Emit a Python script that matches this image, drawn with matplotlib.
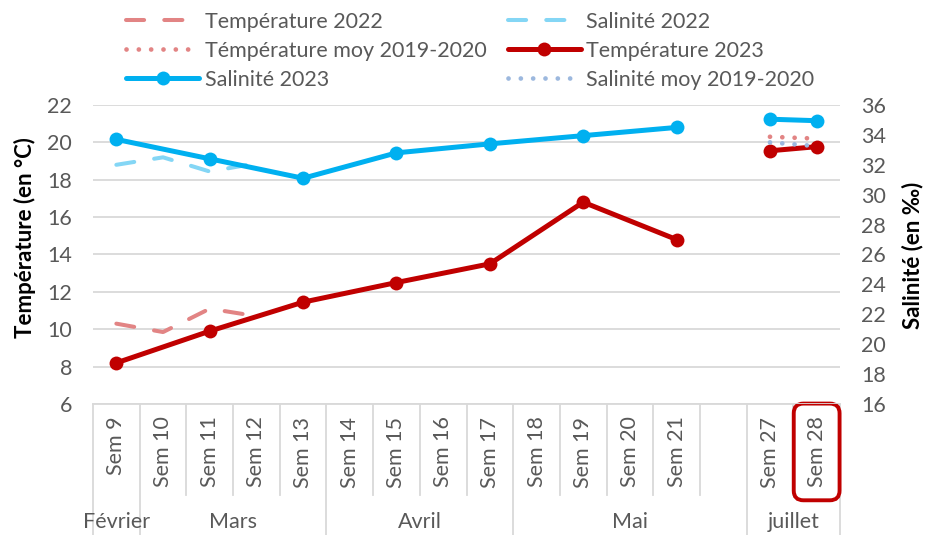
import numpy as np
import matplotlib
matplotlib.use('Agg')
import matplotlib.pyplot as plt

plt.rcParams['font.family'] = ['Lato', 'DejaVu Sans']

nan = np.nan
categories = ['Sem 9', 'Sem 10', 'Sem 11', 'Sem 12', 'Sem 13', 'Sem 14', 'Sem 15',
              'Sem 16', 'Sem 17', 'Sem 18', 'Sem 19', 'Sem 20', 'Sem 21', '',
              'Sem 27', 'Sem 28']
months = ['Février', 'Mars', 'Avril', 'Mai', 'juillet']
month_sizes = [1, 4, 4, 5, 2]

temp_2022 = [10.3, 9.85, 11.1, 10.7, nan, nan, nan, nan, nan, nan, nan, nan, nan, nan, nan, nan]
sal_2022 = [32.0, 32.5, 31.55, 32.1, nan, nan, nan, nan, nan, nan, nan, nan, nan, nan, nan, nan]
temp_moy = [nan, nan, nan, nan, nan, nan, nan, nan, nan, nan, nan, nan, nan, nan, 20.3, 20.2]
temp_2023 = [8.2, nan, 9.9, nan, 11.45, nan, 12.5, nan, 13.5, nan, 16.8, nan, 14.8, nan, 19.55, 19.77]
sal_2023 = [33.7, nan, 32.4, nan, 31.1, nan, 32.8, nan, 33.4, nan, 33.95, nan, 34.5, nan, 35.05, 34.95]
sal_moy = [nan, nan, nan, nan, nan, nan, nan, nan, nan, nan, nan, nan, nan, nan, 33.5, 33.25]

temp_ticks = list(range(6, 23, 2))
sal_ticks = list(range(16, 37, 2))

GRID = '#D9D9D9'
TXT = '#595959'
RED = '#C00000'
BLUE = '#00B0F0'
LRED = '#E28484'
LBLUE = '#84D6F5'
LSTEEL = '#9CB8DE'
FS = 15.5


def segments(vals):
    segs, cur = [], []
    for i, (c, v) in enumerate(zip(categories, vals)):
        if c == '':
            if cur:
                segs.append(cur)
            cur = []
            continue
        if not np.isnan(v):
            cur.append((i, v))
    if cur:
        segs.append(cur)
    return segs


def draw(axis, vals, **kw):
    handle = None
    for seg in segments(vals):
        xs = [p[0] for p in seg]
        ys = [p[1] for p in seg]
        h, = axis.plot(xs, ys, **kw)
        if handle is None:
            handle = h
    return handle


W, H = 932, 535
fig = plt.figure(figsize=(W / 100, H / 100), dpi=100)
ax = fig.add_axes([93 / W, (H - 404) / H, (840 - 93) / W, (404 - 105) / H])
ax2 = ax.twinx()

n = len(categories)
ax.set_xlim(-0.5, n - 0.5)
ax.set_ylim(temp_ticks[0], temp_ticks[-1])
ax2.set_ylim(sal_ticks[0], sal_ticks[-1])
ax.set_yticks(temp_ticks)
ax2.set_yticks(sal_ticks)
ax.yaxis.grid(True, color=GRID, lw=1.3)
ax.set_axisbelow(True)
for a in (ax, ax2):
    for s in a.spines.values():
        s.set_visible(False)
ax.tick_params(axis='y', length=0, pad=15, labelsize=FS, labelcolor=TXT)
ax2.tick_params(axis='y', length=0, pad=15, labelsize=FS, labelcolor=TXT)
ax.set_xticks(range(n))
ax.set_xticklabels(categories, rotation=90, fontsize=FS, color=TXT, va='top', ha='center')
ax.tick_params(axis='x', length=0, pad=9)

# highlight box on last label
lab = ax.get_xticklabels()[-1]
lab.set_bbox(dict(boxstyle='round,pad=0.6,rounding_size=0.45', fc='none', ec=RED, lw=2.8))

# category dividers (drawn beneath the axis artists)
xt = ax.get_xaxis_transform()
bounds = np.cumsum([0] + month_sizes) - 0.5
for i in range(n + 1):
    b = i - 0.5
    tall = np.any(np.isclose(bounds, b))
    y1 = -(535 - 404) / 299 if tall else -(495 - 404) / 299
    ax.plot([b, b], [0, y1], transform=xt, clip_on=False, color=GRID, lw=1.3, zorder=0.2)
ax.plot([-0.5, n - 0.5], [0, 0], transform=xt, clip_on=False, color=GRID, lw=1.3, zorder=0.2)

# month labels
start = 0
for m, sz in zip(months, month_sizes):
    c = start + (sz - 1) / 2
    ax.text(c, -(522 - 404) / 299, m, transform=xt, ha='center', va='center',
            fontsize=FS, color=TXT)
    start += sz

# series
h_t22 = draw(ax, temp_2022, color=LRED, lw=2.9, dashes=(4.5, 5.0), dash_capstyle='round',
             label='Température 2022')
h_tmoy = draw(ax, temp_moy, color=LRED, lw=3.4, dashes=(0.01, 2.6), dash_capstyle='round',
              label='Témpérature moy 2019-2020')
h_t23 = draw(ax, temp_2023, color=RED, lw=3.6, marker='o', ms=10, mew=0,
             solid_capstyle='round', label='Température 2023')
h_s22 = draw(ax2, sal_2022, color=LBLUE, lw=2.9, dashes=(4.5, 5.0), dash_capstyle='round',
             label='Salinité 2022')
h_smoy = draw(ax2, sal_moy, color=LSTEEL, lw=3.4, dashes=(0.01, 2.6), dash_capstyle='round',
              label='Salinité moy 2019-2020')
h_s23 = draw(ax2, sal_2023, color=BLUE, lw=3.6, marker='o', ms=10, mew=0,
             solid_capstyle='round', label='Salinité 2023')

handles = [h_t22, h_tmoy, h_s23, h_s22, h_t23, h_smoy]
leg = fig.legend(handles=handles, labels=[h.get_label() for h in handles], ncol=2,
                 loc='upper left', bbox_to_anchor=(126 / W, 1 - 12 / H),
                 frameon=False, fontsize=FS, handlelength=3.4, handletextpad=0.25,
                 columnspacing=1.0, labelspacing=0.41, borderpad=0, borderaxespad=0)
for t in leg.get_texts():
    t.set_color(TXT)

fig.text(25 / W, 1 - 238 / H, 'Température (en °C)', rotation=90, ha='center', va='center',
         fontsize=16, fontweight='bold', color='black')
fig.text(913 / W, 1 - 255 / H, 'Salinité (en ‰)', rotation=90, ha='center', va='center',
         fontsize=16, fontweight='bold', color='black')

fig.savefig('out.png', dpi=100)
